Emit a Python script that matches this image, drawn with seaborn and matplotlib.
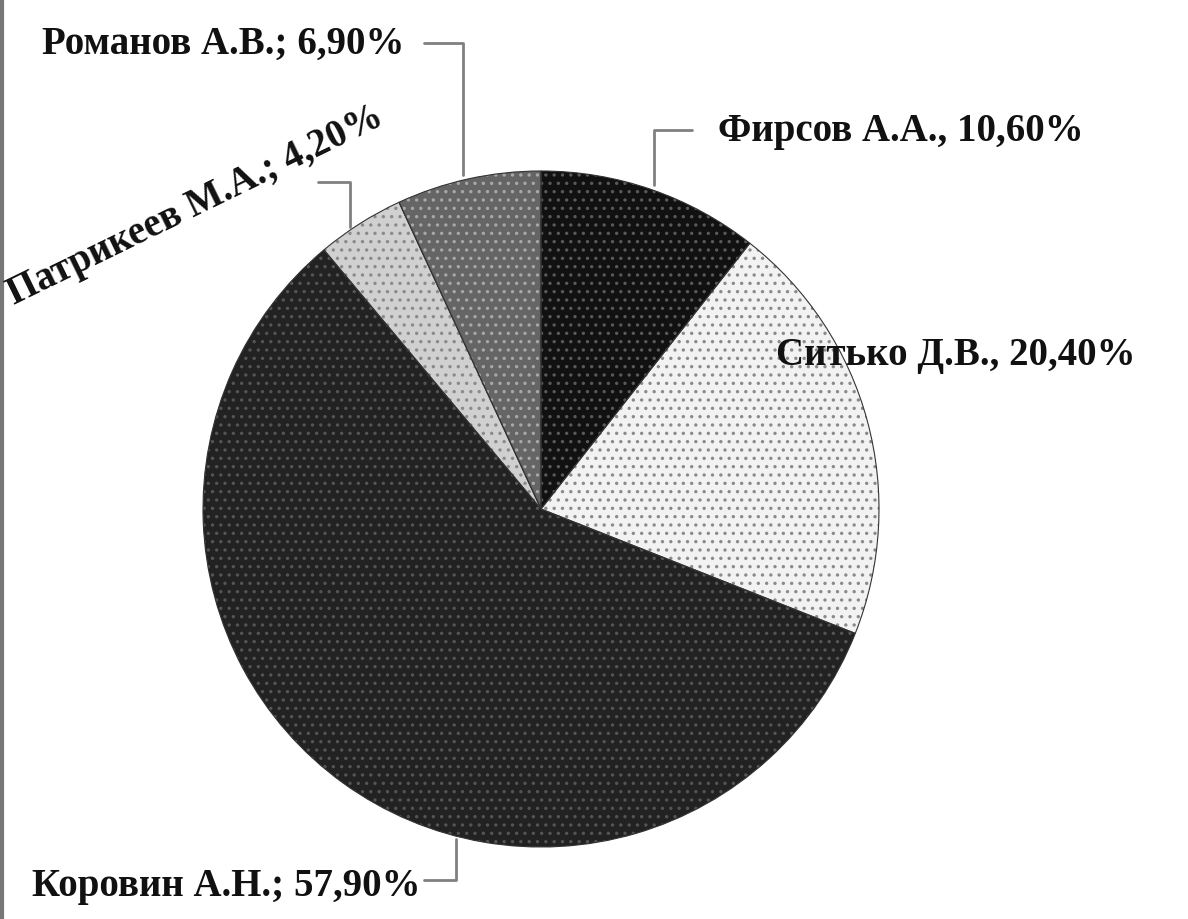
"""
Pie chart: share of each author (recreated from a scanned figure).
"""

import matplotlib.pyplot as plt
import seaborn as sns

names = ["Фирсов А.А.", "Ситько Д.В.", "Коровин А.Н.", "Патрикеев М.А.", "Романов А.В."]
shares = [10.6, 20.4, 57.9, 4.2, 6.9]
separators = [",", ",", ";", ";", ";"]
colors = ["#111111", "#f2f2f2", "#222222", "#d0d0d0", "#656565"]
hatch_colors = ["#5a5a5a", "#8a8a8a", "#555555", "#8a8a8a", "#a8a8a8"]


def label(i):
    value = f"{shares[i]:.2f}".replace(".", ",")
    return f"{names[i]}{separators[i]} {value}%"


def main():
    sns.set_theme(style="white")
    plt.rcParams["font.family"] = ["Liberation Serif", "DejaVu Serif"]
    plt.rcParams["hatch.linewidth"] = 1.2

    fig = plt.figure(figsize=(11.88, 9.2), dpi=100)
    ax = fig.add_axes([0, 0, 1, 1])

    wedges, _ = ax.pie(
        shares, colors=colors, startangle=90, counterclock=False,
        center=(541, 410), radius=338, frame=True,
        wedgeprops=dict(linewidth=0),
    )
    for w, hc in zip(wedges, hatch_colors):
        w.set_hatch("..")
        w.set_edgecolor(hc)
    # thin outline over the slices, as in the scan
    ax.pie(
        shares, colors=["none"] * len(shares), startangle=90, counterclock=False,
        center=(541, 410), radius=338, frame=True,
        wedgeprops=dict(linewidth=0.8, edgecolor="#333333", fill=False),
    )
    ax.set_xlim(0, 1188)
    ax.set_ylim(0, 920)
    ax.set_aspect("equal")
    ax.axis("off")

    txt = dict(fontsize=28, fontweight="bold", color="#111111")
    lead = dict(color="#808080", linewidth=2)

    # Фирсов
    ax.text(718, 920 - 131, label(0), ha="left", va="center", **txt)
    ax.plot([692, 654, 654], [920 - 131, 920 - 131, 920 - 186], **lead)
    # Ситько
    ax.text(776, 920 - 355, label(1), ha="left", va="center", **txt)
    # Коровин
    ax.text(32, 920 - 887, label(2), ha="left", va="center", **txt)
    ax.plot([424, 456, 456], [920 - 881, 920 - 881, 920 - 840], **lead)
    # Патрикеев
    ax.text(14, 920 - 305, label(3), ha="left", va="baseline",
            rotation=26, rotation_mode="anchor", **txt)
    ax.plot([318, 350, 350], [920 - 183, 920 - 183, 920 - 228], **lead)
    # Романов
    ax.text(42, 920 - 44, label(4), ha="left", va="center", **txt)
    ax.plot([424, 463, 463], [920 - 44, 920 - 44, 920 - 176], **lead)

    # left border of the scanned page
    ax.plot([2, 2], [0, 920], color="#777777", linewidth=3)

    fig.savefig("out.png", dpi=100)


if __name__ == "__main__":
    main()
